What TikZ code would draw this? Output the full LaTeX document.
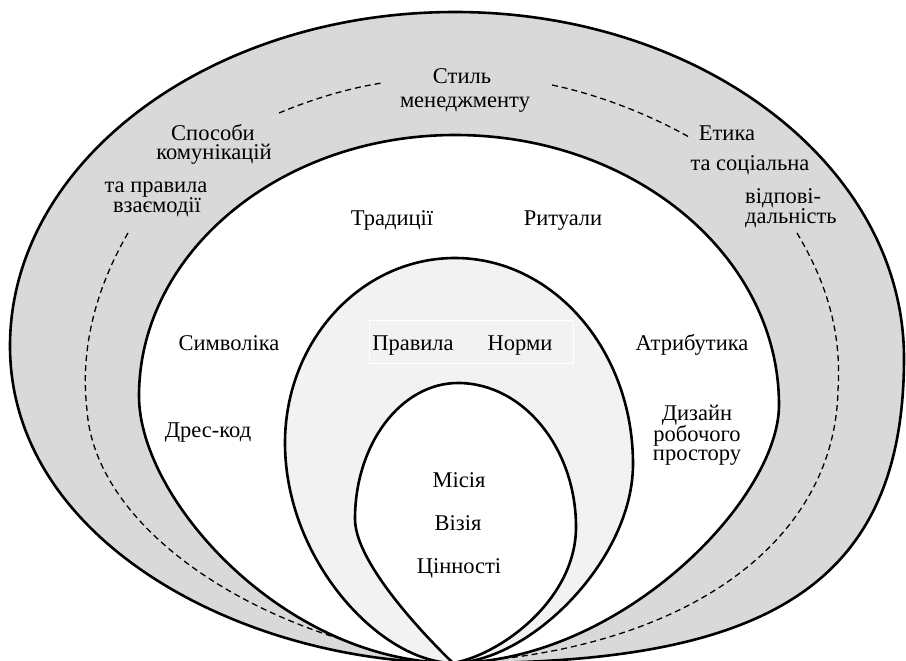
\documentclass[tikz,border=0pt]{standalone}
\usepackage{fontspec}
\setmainfont{Liberation Serif}
\definecolor{ringgray}{HTML}{D9D9D9}
\definecolor{lightgray}{HTML}{F2F2F2}
\begin{document}
\begin{tikzpicture}[x=1pt,y=-1pt,
  shapeline/.style={draw=black,line width=2.6pt},
  dashline/.style={draw=black,line width=1.3pt,dash pattern=on 6pt off 4pt},
  lbl/.style={inner sep=0pt,anchor=base,text height=13pt,text depth=3pt,font=\fontsize{22.5}{20}\selectfont}]
\useasboundingbox (0,0) rectangle (906,661);
\coordinate (B) at (453,663);
% outer ring
\path[shapeline,fill=ringgray] (B) .. controls (240,662) and (10,540) .. (10,346)
  .. controls (10,162) and (209,12) .. (455,12)
  .. controls (703,12) and (904,167) .. (904,358)
  .. controls (904,590) and (760,665) .. (B) -- cycle;
% dashed lines
\path[dashline] (279,113) .. controls (315,98) and (350,88) .. (382,83);
\path[dashline] (552,85) .. controls (600,95) and (650,115) .. (689,137);
\path[dashline] (128,233) .. controls (95,290) and (80,350) .. (87,410)
  .. controls (95,530) and (260,640) .. (B);
\path[dashline] (797,233) .. controls (825,280) and (842,330) .. (838,390)
  .. controls (835,540) and (690,650) .. (B);
% white ring
\path[shapeline,fill=white] (B) .. controls (285,662) and (139,500) .. (139,396)
  .. controls (139,252) and (281,135) .. (455,135)
  .. controls (634,135) and (779,256) .. (779,405)
  .. controls (779,500) and (620,662) .. (B) -- cycle;
% light gray
\path[shapeline,fill=lightgray] (B) .. controls (380,662) and (285,560) .. (285,443)
  .. controls (285,341) and (361,258) .. (455,258)
  .. controls (553,258) and (633,350) .. (633,464)
  .. controls (633,560) and (530,662) .. (B) -- cycle;
% inner
\path[shapeline,fill=white] (B) .. controls (450,660) and (355,570) .. (355,519)
  .. controls (355,444) and (401,383) .. (458,383)
  .. controls (523,383) and (576,448) .. (576,527)
  .. controls (576,600) and (500,655) .. (B) -- cycle;
% box
\node[draw=white,line width=1pt,fill=lightgray,minimum width=204pt,minimum height=43pt,inner sep=0pt] (box) at (471,341.5) {};
% labels
\node[lbl] (stil) at (462,84) {Стиль};
\node[lbl] (menedzh) at (465,108) {менеджменту};
\node[lbl] (sposoby) at (213,140) {Способи};
\node[lbl] (komun) at (214,160) {комунікацій};
\node[lbl] (pravyla) at (156,192) {та правила};
\node[lbl] (vzaiem) at (157,212) {взаємодії};
\node[lbl] (etyka) at (727,140) {Етика};
\node[lbl] (socialna) at (750,170) {та соціальна};
\node[lbl,anchor=base west] (vidp) at (745,203) {відпові-};
\node[lbl,anchor=base west] (dalnist) at (745,223) {дальність};
\node[lbl] (tradycii) at (392,225) {Традиції};
\node[lbl] (rytualy) at (563,225) {Ритуали};
\node[lbl] (symvolika) at (229,350) {Символіка};
\node[lbl] (pr) at (413,350) {Правила};
\node[lbl] (normy) at (520,350) {Норми};
\node[lbl] (atrybutyka) at (692,350) {Атрибутика};
\node[lbl] (dres) at (208,437) {Дрес-код};
\node[lbl] (dyzain) at (697,420) {Дизайн};
\node[lbl] (robochoho) at (697,441) {робочого};
\node[lbl] (prostoru) at (697,460) {простору};
\node[lbl] (misia) at (459,487) {Місія};
\node[lbl] (vizia) at (458,530) {Візія};
\node[lbl] (cinnosti) at (459,573) {Цінності};
\end{tikzpicture}
\end{document}
